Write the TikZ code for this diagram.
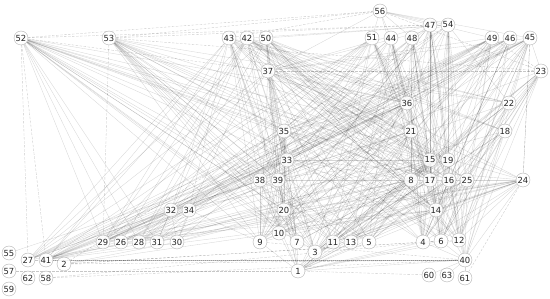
\documentclass[tikz,border=0pt]{standalone}
\usepackage{fontspec}
\setmainfont{DejaVu Sans}
\usetikzlibrary{backgrounds}
\begin{document}
\begin{tikzpicture}[x=1pt,y=-1pt,
  vtx/.style={circle,draw=black!30,fill=white,fill opacity=0.85,text opacity=1,line width=0.4pt,inner sep=0pt,minimum size=14pt,font=\fontsize{8.4}{9}\selectfont,text=black!85},
  edge/.style={draw=black,opacity=0.16,line width=0.35pt},
  dedge/.style={draw=black,opacity=0.22,line width=0.35pt,dash pattern=on 2.5pt off 1.5pt}]
\useasboundingbox (0,0) rectangle (550,299);
\foreach \n/\x/\y in {52/21/38,53/109/38,43/229/38,42/247/38,50/266/38,37/268/71,56/380/11,47/430/25,54/448/25,51/372/38,44/391/38,48/412/38,49/492/38,46/510/38,45/530/38,23/541/71,36/407/103,22/509/103,35/284/131,21/411/131,18/505/131,33/287/160,15/430/160,19/448/160,38/260/180,39/278/180,8/411/180,17/430/180,16/449/180,25/467/180,24/523/180,32/171/210,34/189/210,20/284/210,14/436/210,29/103/242,26/121/242,28/139/242,31/157/242,30/177/242,9/260/242,10/279/233,7/297/242,3/315/252,11/333/242,13/351/242,5/369/242,4/423/242,6/441/241,12/459/240,55/9/253,27/28/260,41/46/260,2/64/264,57/9/271,62/28/278,58/46/278,59/9/289,40/465/260,1/298/271,60/429/275,63/447/275,61/465/278}
  \node[vtx] (n\n) at (\x,\y) {\n};
\begin{scope}[on background layer]
\foreach \a/\b in {52/29,52/26,52/28,52/31,52/9,52/10,52/38,52/39,52/33,52/20,52/7,52/3,52/11,52/13,52/14,52/8,52/17,52/15,52/36,52/21,52/35,52/24,52/16,
53/9,53/10,53/20,53/38,53/39,53/33,53/35,53/7,53/3,53/11,53/13,53/5,53/36,53/21,53/15,53/8,53/17,53/14,53/4,53/16,53/22,
43/27,43/41,43/29,43/32,43/34,43/20,43/9,43/10,43/7,43/3,43/11,43/15,43/17,43/14,43/4,43/6,43/21,43/36,43/18,43/22,43/38,43/39,
42/41,42/29,42/26,42/28,42/31,42/20,42/10,42/3,42/13,42/5,42/15,42/19,42/17,42/16,42/25,42/14,42/12,42/36,42/21,42/22,42/18,42/24,42/33,
50/37,50/27,50/28,50/30,50/33,50/39,50/20,50/7,50/11,50/5,50/8,50/17,50/16,50/14,50/6,50/12,50/36,50/21,50/18,50/25,50/1,
37/9,37/10,37/7,37/3,37/11,37/33,37/39,37/20,37/15,37/19,37/17,37/14,37/36,37/21,37/22,37/24,37/45,37/49,37/32,37/29,37/27,
51/15,51/17,51/14,51/4,51/6,51/12,51/21,51/3,51/11,51/29,51/41,51/27,51/32,51/33,51/35,51/38,51/9,51/16,51/19,
44/15,44/17,44/8,44/14,44/4,44/36,44/21,44/13,44/5,44/28,44/34,44/39,44/20,44/16,44/6,
48/8,48/17,48/15,48/14,48/4,48/6,48/12,48/36,48/21,48/11,48/31,48/30,48/10,48/1,48/19,48/16,
47/12,47/40,47/6,47/4,47/16,47/25,47/14,47/17,47/15,47/19,47/21,47/36,47/33,47/35,47/20,47/13,47/9,47/37,
54/12,54/40,54/6,54/16,54/25,54/14,54/19,54/17,54/22,54/36,54/37,54/42,54/50,54/38,54/10,54/5,54/28,
56/51,56/44,56/48,56/47,56/54,56/49,56/45,56/37,56/36,
49/27,49/41,49/29,49/32,49/34,49/35,49/33,49/38,49/9,49/3,49/11,49/14,49/17,49/15,49/12,49/6,49/25,
46/41,46/26,46/28,46/32,46/35,46/39,46/10,46/7,46/13,46/8,46/14,46/16,46/12,46/4,46/40,
45/27,45/29,45/31,45/34,45/35,45/33,45/20,45/3,45/5,45/14,45/17,45/19,45/25,45/12,45/6,45/24,45/23,45/36,45/40,45/22,
23/14,23/6,23/12,23/4,23/16,23/25,23/22,23/18,23/40,23/3,23/41,23/1,23/8,
22/6,22/12,22/4,22/14,22/8,22/17,22/1,22/3,22/29,
18/6,18/12,18/14,18/17,18/5,18/11,18/41,18/40,
24/41,24/27,24/29,24/9,24/10,24/3,24/11,24/13,24/5,24/4,24/6,24/12,24/14,24/40,24/33,24/20,24/39,
36/9,36/10,36/7,36/3,36/32,36/29,36/27,36/41,36/38,36/39,36/35,36/33,36/20,36/15,36/17,36/4,36/1,
21/8,21/17,21/15,21/14,21/4,21/3,21/11,21/13,21/32,21/34,21/28,21/38,21/20,21/9,
35/9,35/10,35/38,35/39,35/33,35/20,35/7,35/41,35/27,35/32,35/15,35/17,35/4,35/6,
33/9,33/10,33/7,33/3,33/29,33/41,33/27,33/26,33/15,33/8,33/14,33/12,
15/4,15/6,15/8,15/17,15/14,15/3,15/11,15/13,15/5,15/28,15/31,15/9,15/38,
19/4,19/6,19/12,19/16,19/17,19/14,19/13,19/7,19/10,19/41,19/30,19/32,
38/9,38/10,38/1,38/7,38/29,38/41,38/27,38/5,
39/9,39/10,39/1,39/7,39/20,39/3,39/11,39/26,
8/4,8/3,8/11,8/13,8/5,8/29,8/41,8/7,8/9,8/28,
17/4,17/6,17/12,17/14,17/3,17/11,17/1,17/30,17/10,
16/4,16/6,16/12,16/14,16/13,16/5,16/1,16/31,16/40,
25/6,25/12,25/14,25/4,25/1,25/3,25/11,25/40,
32/41,32/27,32/29,32/26,32/28,32/31,32/30,
34/41,34/29,34/28,34/26,34/31,34/30,34/9,
20/9,20/10,20/7,20/1,20/3,20/41,
14/4,14/6,14/12,14/3,14/11,14/1,14/40,14/29,14/41,
1/9,1/10,1/7,1/3,1/11,1/13,1/5,1/40,1/6,1/4,1/12,
40/60,40/63,40/61,40/12,40/6,40/4,55/33,2/30,2/14}
  \draw[edge] (n\a) -- (n\b);
\foreach \a/\b in {52/56,53/56,52/47,53/47,43/56,37/23,52/27,52/41,53/29,52/37,2/40,58/40,2/12,41/40,57/1,27/40,9/40,45/24,61/24,54/2,53/23,2/6,58/6,60/1,56/23,49/23}
  \draw[dedge] (n\a) -- (n\b);
\end{scope}
\end{tikzpicture}
\end{document}
